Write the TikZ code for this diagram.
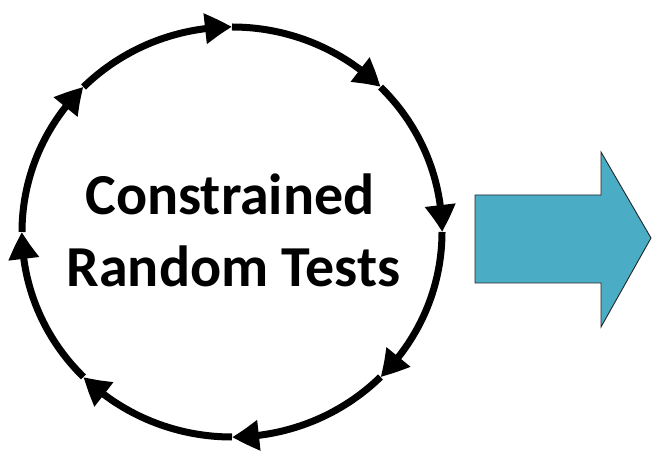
\documentclass[tikz,border=0pt]{standalone}
\usepackage{fontspec}
\setmainfont{Carlito}
\usetikzlibrary{arrows.meta,bending}
\definecolor{aqua}{HTML}{4BACC6}
\tikzset{
  loopseg/.style={line width=7pt, -{Triangle[length=27pt,width=29pt,bend]}},
  bigarrow/.style={fill=aqua, draw=black!85, line width=0.9pt, line join=miter},
  caption/.style={font=\bfseries\fontsize{58}{72}\selectfont, anchor=base, inner sep=0pt, text=black}
}
\begin{document}
\begin{tikzpicture}[x=1pt,y=1pt]
  \useasboundingbox (0,0) rectangle (652,452);
  \coordinate (c) at (232,220);
  % cycle of eight arcs running clockwise round the text
  \foreach \a in {135,90,45,0,-45,-90,-135,-180}{
    \draw[loopseg] ([shift={(\a:210 and 205)}]c)
      arc[start angle=\a, end angle=\a-45, x radius=210, y radius=205];
  }
  \node[caption] (line1) at (230,237) {Constrained};
  \node[caption] (line2) at (233.5,165) {Random Tests};
  % block arrow pointing right
  \coordinate (b1) at (475,257);
  \coordinate (b2) at (601,257);
  \coordinate (b3) at (601,300);
  \coordinate (b4) at (651,214);
  \coordinate (b5) at (601,125);
  \coordinate (b6) at (601,169);
  \coordinate (b7) at (475,169);
  \draw[bigarrow] (b1) -- (b2) -- (b3) -- (b4) -- (b5) -- (b6) -- (b7) -- cycle;
\end{tikzpicture}
\end{document}
